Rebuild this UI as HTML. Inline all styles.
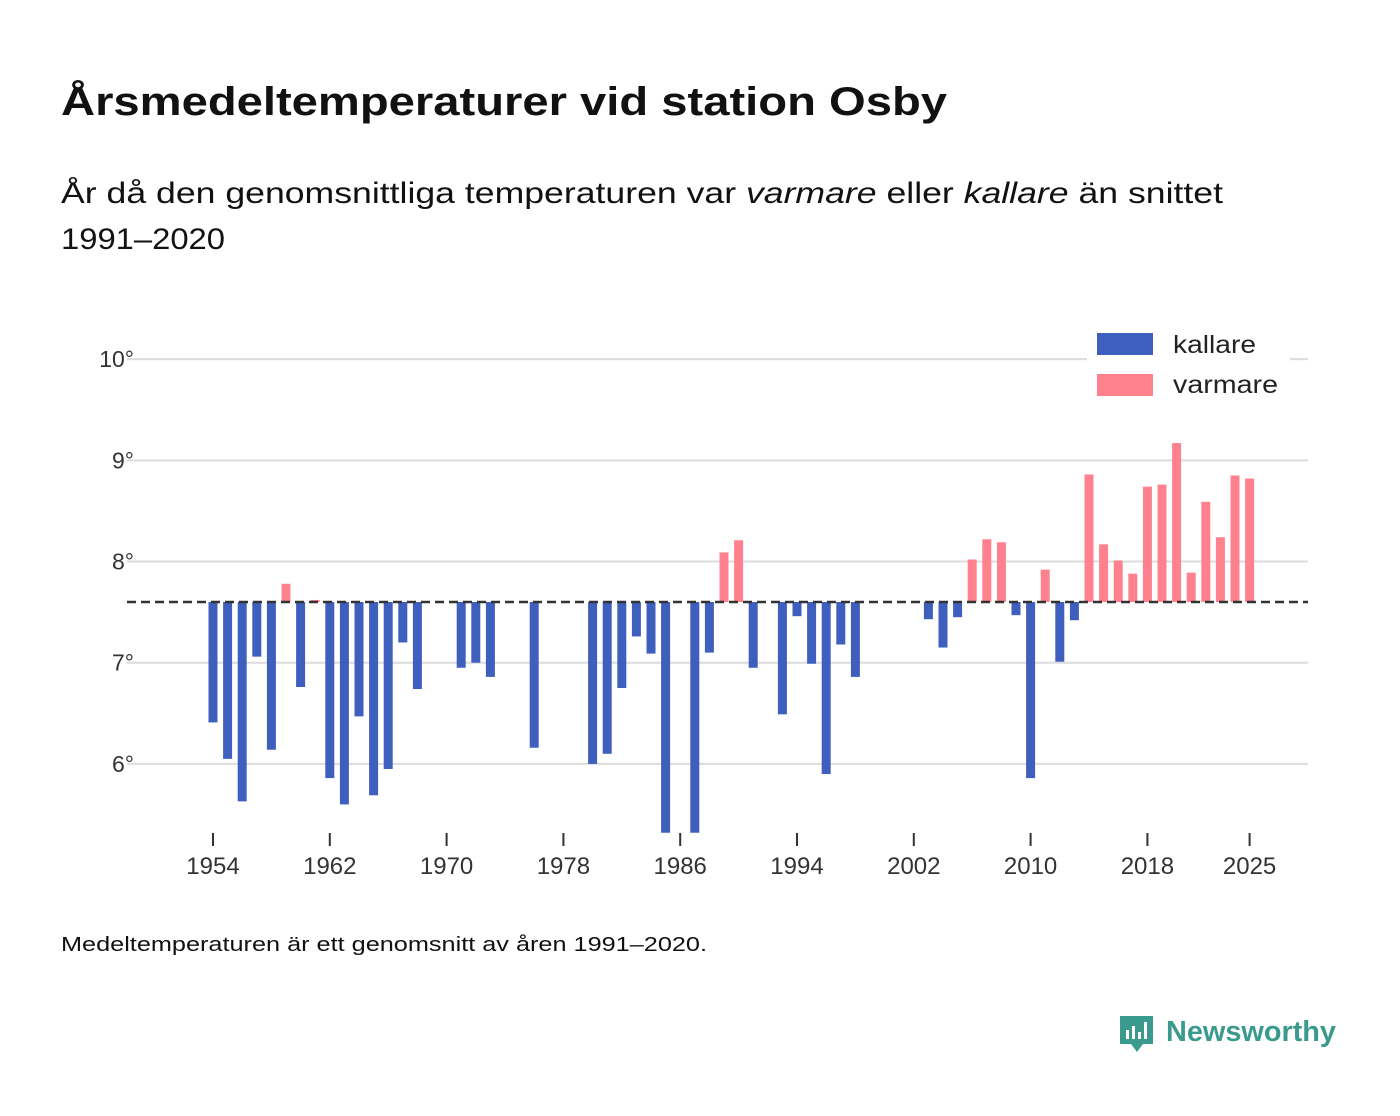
<!DOCTYPE html>
<html><head><meta charset="utf-8">
<style>
html,body{margin:0;padding:0;background:#fff;}
svg{display:block;font-family:"Liberation Sans","DejaVu Sans",sans-serif;}
</style></head>
<body>
<svg id="chart" width="1400" height="1116" viewBox="0 0 1400 1116" xmlns="http://www.w3.org/2000/svg">
<text x="61" y="115" font-size="40" font-weight="bold" fill="#111" textLength="886" lengthAdjust="spacingAndGlyphs">Årsmedeltemperaturer vid station Osby</text>
<text x="61" y="203" font-size="30" fill="#111" textLength="1162" lengthAdjust="spacingAndGlyphs">År då den genomsnittliga temperaturen var <tspan font-style="italic">varmare</tspan> eller <tspan font-style="italic">kallare</tspan> än snittet</text>
<text x="61" y="249" font-size="30" fill="#111" textLength="164" lengthAdjust="spacingAndGlyphs">1991–2020</text>
<g id="grid"></g>
<g id="bars"></g>
<g id="xaxis"></g>
<line id="refline" stroke="#333" stroke-width="2.5" stroke-dasharray="9,5"/>
<g>
<rect x="1087" y="326" width="203" height="78" fill="#fff"/>
<rect x="1097" y="333" width="56" height="22" fill="#3f5fbf"/>
<text x="1173" y="353" font-size="25" fill="#222" textLength="83" lengthAdjust="spacingAndGlyphs">kallare</text>
<rect x="1097" y="374" width="56" height="22" fill="#ff818e"/>
<text x="1173" y="393" font-size="25" fill="#222" textLength="105" lengthAdjust="spacingAndGlyphs">varmare</text>
</g>
<text x="61" y="951" font-size="20" fill="#111" textLength="646" lengthAdjust="spacingAndGlyphs">Medeltemperaturen är ett genomsnitt av åren 1991–2020.</text>
<g>
<path d="M1120 1016 h33 v28 h-10 l-6 8 l-6 -8 h-11 z" fill="#3a9a8e"/>
<rect x="1126" y="1030" width="3" height="9" fill="#fff"/>
<rect x="1132" y="1026" width="3" height="13" fill="#fff"/>
<rect x="1138" y="1032" width="3" height="7" fill="#fff"/>
<rect x="1144" y="1022" width="3" height="17" fill="#fff"/>
<text x="1166" y="1041" font-size="29" font-weight="bold" fill="#3a9a8e" textLength="170" lengthAdjust="spacingAndGlyphs">Newsworthy</text>
</g>
</svg>
<script>
const years = [1954,1955,1956,1957,1958,1959,1960,1961,1962,1963,1964,1965,1966,1967,1968,1971,1972,1973,1976,1980,1981,1982,1983,1984,1985,1987,1988,1989,1990,1991,1993,1994,1995,1996,1997,1998,2003,2004,2005,2006,2007,2008,2009,2010,2011,2012,2013,2014,2015,2016,2017,2018,2019,2020,2021,2022,2023,2024,2025];
const temps = [6.41,6.05,5.63,7.06,6.14,7.78,6.76,7.62,5.86,5.60,6.47,5.69,5.95,7.20,6.74,6.95,7.00,6.86,6.16,6.00,6.10,6.75,7.26,7.09,5.2,5.2,7.10,8.09,8.21,6.95,6.49,7.46,6.99,5.90,7.18,6.86,7.43,7.15,7.45,8.02,8.22,8.19,7.47,5.86,7.92,7.01,7.42,8.86,8.17,8.01,7.88,8.74,8.76,9.17,7.89,8.59,8.24,8.85,8.82];
const baseline = 7.6;
const yTicks = [6,7,8,9,10];
const xTicks = [1954,1962,1970,1978,1986,1994,2002,2010,2018,2025];

const NS='http://www.w3.org/2000/svg';
const yMin=5.32;
const yScale = v => 602 - (v - baseline) * 101.2;
const xScale = yr => 213 + (yr - 1954) * 14.6;
function mk(tag, attrs){const e=document.createElementNS(NS,tag);for(const k in attrs)e.setAttribute(k,attrs[k]);return e;}

const grid=document.getElementById('grid');
yTicks.forEach(t=>{
  const y=yScale(t);
  const l=mk('line',{x1:127,x2:1308,y1:y,y2:y,stroke:'#dcdcdc','stroke-width':2});
  
  
  grid.appendChild(l);
  const tx=mk('text',{x:134,y:y+8,'font-size':23,fill:'#333','text-anchor':'end'});
  tx.textContent=t+'°';
  
  
  grid.appendChild(tx);
});

const bars=document.getElementById('bars');
years.forEach((yr,i)=>{
  const v=Math.max(temps[i],yMin);
  const x=xScale(yr)-4.5;
  const y0=yScale(baseline), y1=yScale(v);
  const r=mk('rect',{x:x,y:Math.min(y0,y1),width:9,height:Math.max(Math.abs(y1-y0),1),fill:temps[i]>=baseline?'#ff818e':'#3f5fbf'});
  
  
  bars.appendChild(r);
});

const ref=document.getElementById('refline');
ref.setAttribute('x1',127);ref.setAttribute('x2',1308);
ref.setAttribute('y1',yScale(baseline));ref.setAttribute('y2',yScale(baseline));

const xa=document.getElementById('xaxis');
xTicks.forEach(t=>{
  const x=xScale(t);
  const l=mk('line',{x1:x,x2:x,y1:833,y2:846,stroke:'#333','stroke-width':2});
  
  
  xa.appendChild(l);
  const tx=mk('text',{x:x,y:874,'font-size':24,fill:'#333','text-anchor':'middle'});
  tx.textContent=t;
  
  
  xa.appendChild(tx);
});
</script>
</body></html>
